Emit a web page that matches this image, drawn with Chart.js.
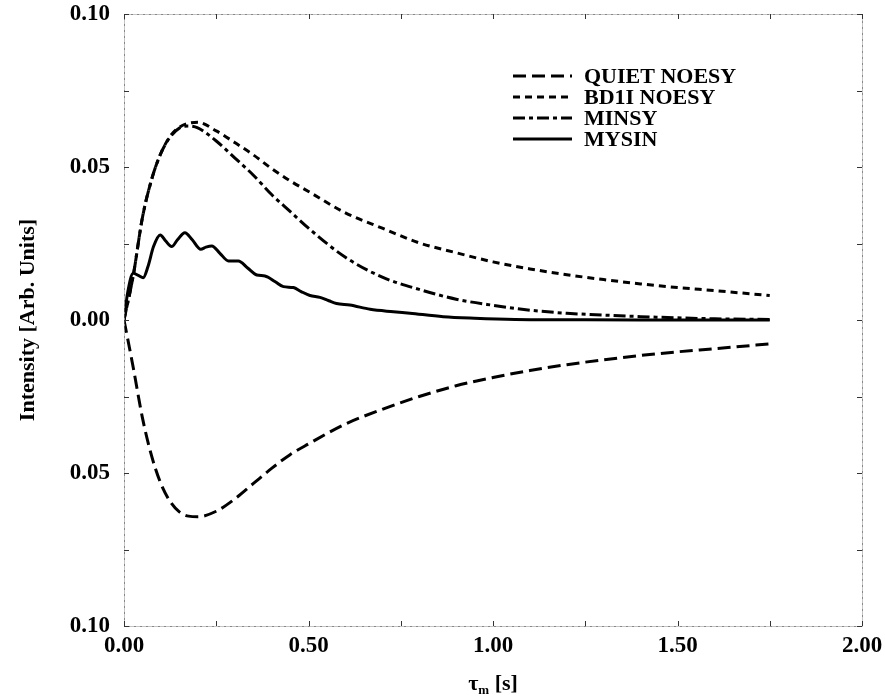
<!DOCTYPE html>
<html>
<head>
<meta charset="utf-8">
<title>Intensity vs mixing time</title>
<script src="https://cdn.jsdelivr.net/npm/chart.js@4.4.1/dist/chart.umd.min.js"></script>
<style>
  html, body { margin: 0; padding: 0; background: #fff; }
  #wrap { width: 885px; height: 696px; }
</style>
</head>
<body>
<div id="wrap"><canvas id="noesyChart"></canvas></div>
<script>
// mixing time grid (s) shared by the three smooth curves
const tauGrid = [0, 0.025, 0.05, 0.075, 0.1, 0.125, 0.15, 0.175, 0.2, 0.25, 0.3, 0.35, 0.4, 0.45, 0.5,
  0.6, 0.7, 0.8, 0.9, 1.0, 1.1, 1.2, 1.3, 1.4, 1.5, 1.6, 1.75];

const quietNoesy = [0, -0.0155, -0.032, -0.0445, -0.0535, -0.0593, -0.0627, -0.0641, -0.0643, -0.0625, -0.0585,
  -0.0535, -0.0485, -0.044, -0.0405, -0.034, -0.0292, -0.025, -0.0215, -0.0188, -0.0165, -0.0146, -0.013,
  -0.0116, -0.0104, -0.0094, -0.0078];

const bd1iNoesy = [0, 0.0145, 0.0335, 0.046, 0.0545, 0.06, 0.063, 0.0643, 0.0646, 0.0618, 0.058,
  0.054, 0.0495, 0.0455, 0.042, 0.035, 0.03, 0.0252, 0.022, 0.019, 0.0167, 0.0148, 0.0132,
  0.0118, 0.0106, 0.0096, 0.008];

const minsy = [0, 0.0145, 0.0335, 0.046, 0.0545, 0.0598, 0.0627, 0.0634, 0.0628, 0.0585, 0.053,
  0.0474, 0.041, 0.0355, 0.03, 0.0205, 0.014, 0.01, 0.0068, 0.0048, 0.0032, 0.0022, 0.0016,
  0.0011, 0.0007, 0.0004, 0.0002];

// MYSIN wiggles, so it gets its own finer grid
const mysinTau = [0, 0.01, 0.025, 0.04, 0.052, 0.065, 0.08, 0.098, 0.113, 0.129, 0.145, 0.165, 0.185,
  0.208, 0.222, 0.238, 0.26, 0.283, 0.31, 0.335, 0.36, 0.382, 0.41, 0.432, 0.459, 0.48, 0.504,
  0.531, 0.555, 0.576, 0.612, 0.667, 0.73, 0.775, 0.865, 0.95, 1.06, 1.2, 1.4, 1.75];
const mysin = [0, 0.009, 0.0153, 0.0145, 0.0138, 0.0175, 0.024, 0.0278, 0.0258, 0.024, 0.0262, 0.0285, 0.0262,
  0.0231, 0.0238, 0.0242, 0.0218, 0.0193, 0.0193, 0.017, 0.0147, 0.0144, 0.0125, 0.0109, 0.0106, 0.0093, 0.008,
  0.0074, 0.0063, 0.0054, 0.0049, 0.0035, 0.0027, 0.0022, 0.0011, 0.0006, 0.0002, 0.0001, 0, 0];

const xTicks = [0, 0.5, 1.0, 1.5, 2.0];
const yTicks = [-0.1, -0.05, 0, 0.05, 0.1];

const seriesNames = ['QUIET NOESY', 'BD1I NOESY', 'MINSY', 'MYSIN'];
const seriesDash = [[13, 6], [7, 5], [12, 4, 4, 4], []];

const serif = '"Liberation Serif", "Times New Roman", serif';

function pts(xs, ys) {
  return xs.map((x, i) => ({ x: x, y: ys[i] }));
}

function line(label, data, dash) {
  return {
    label: label,
    data: data,
    borderColor: '#000',
    borderWidth: 3,
    borderDash: dash,
    pointRadius: 0,
    fill: false,
    cubicInterpolationMode: 'monotone'
  };
}

// frame with inward ticks on every side
const framePlugin = {
  id: 'frame',
  afterDraw(chart) {
    const ctx = chart.ctx, a = chart.chartArea;
    const xs = chart.scales.x, ys = chart.scales.y;
    ctx.save();
    ctx.strokeStyle = '#888';
    ctx.lineWidth = 1;
    ctx.setLineDash([3, 1, 1, 1]);
    ctx.strokeRect(a.left + 0.5, a.top + 0.5, a.right - a.left, a.bottom - a.top);
    ctx.setLineDash([]);
    ctx.strokeStyle = '#333';
    ctx.beginPath();
    for (let v = 0; v <= 2.0001; v += 0.25) {
      const px = Math.round(xs.getPixelForValue(v)) + 0.5;
      ctx.moveTo(px, a.bottom); ctx.lineTo(px, a.bottom - 5);
      ctx.moveTo(px, a.top); ctx.lineTo(px, a.top + 5);
    }
    for (let v = -0.1; v <= 0.1001; v += 0.025) {
      const py = Math.round(ys.getPixelForValue(v)) + 0.5;
      ctx.moveTo(a.left, py); ctx.lineTo(a.left + 5, py);
      ctx.moveTo(a.right, py); ctx.lineTo(a.right - 5, py);
    }
    ctx.stroke();
    ctx.restore();
  }
};

// axis titles (x title needs a subscript) and the line-style legend
const textPlugin = {
  id: 'texts',
  afterDraw(chart) {
    const ctx = chart.ctx, a = chart.chartArea;
    ctx.save();
    ctx.fillStyle = '#000';

    // y title
    ctx.font = 'bold 22px ' + serif;
    ctx.textAlign = 'center';
    ctx.textBaseline = 'middle';
    ctx.translate(28, (a.top + a.bottom) / 2);
    ctx.rotate(-Math.PI / 2);
    ctx.fillText('Intensity [Arb. Units]', 0, 0);
    ctx.setTransform(1, 0, 0, 1, 0, 0);

    // x title: tau_m [s]
    const cx = (a.left + a.right) / 2, by = 690;
    ctx.textAlign = 'left';
    ctx.textBaseline = 'alphabetic';
    ctx.font = 'bold 22px ' + serif;
    const wTau = ctx.measureText('τ').width;
    const wRest = ctx.measureText(' [s]').width;
    ctx.font = 'bold 13px ' + serif;
    const wSub = ctx.measureText('m').width;
    let x0 = cx - (wTau + wSub + wRest) / 2;
    ctx.font = 'bold 22px ' + serif;
    ctx.fillText('τ', x0, by);
    ctx.font = 'bold 13px ' + serif;
    ctx.fillText('m', x0 + wTau, by + 4);
    ctx.font = 'bold 22px ' + serif;
    ctx.fillText(' [s]', x0 + wTau + wSub, by);

    // legend
    const rowY = [76, 97, 118, 139];
    ctx.textBaseline = 'middle';
    ctx.font = 'bold 22px ' + serif;
    ctx.strokeStyle = '#000';
    ctx.lineWidth = 3;
    seriesNames.forEach((name, i) => {
      ctx.setLineDash(seriesDash[i]);
      ctx.beginPath();
      ctx.moveTo(513, rowY[i]);
      ctx.lineTo(572, rowY[i]);
      ctx.stroke();
      ctx.fillText(name, 584, rowY[i] + 1);
    });
    ctx.restore();
  }
};

new Chart(document.getElementById('noesyChart'), {
  type: 'line',
  data: {
    datasets: [
      line(seriesNames[0], pts(tauGrid, quietNoesy), seriesDash[0]),
      line(seriesNames[1], pts(tauGrid, bd1iNoesy), seriesDash[1]),
      line(seriesNames[2], pts(tauGrid, minsy), seriesDash[2]),
      line(seriesNames[3], pts(mysinTau, mysin), seriesDash[3])
    ]
  },
  options: {
    responsive: true,
    maintainAspectRatio: false,
    animation: false,
    layout: { padding: { top: 14, right: 23, left: 0, bottom: 0 } },
    plugins: {
      legend: { display: false },
      tooltip: { enabled: false }
    },
    scales: {
      x: {
        type: 'linear',
        min: 0,
        max: 2,
        afterBuildTicks: s => { s.ticks = xTicks.map(v => ({ value: v })); },
        afterFit: s => { s.height = 70; s.paddingLeft = 0; s.paddingRight = 0; },
        grid: { display: false, drawTicks: false },
        border: { display: false },
        ticks: {
          padding: 6,
          color: '#000',
          maxRotation: 0,
          font: { family: serif, size: 23, weight: 'bold' },
          callback: v => Number(v).toFixed(2)
        }
      },
      y: {
        type: 'linear',
        min: -0.1,
        max: 0.1,
        afterBuildTicks: s => { s.ticks = yTicks.map(v => ({ value: v })); },
        afterFit: s => { s.width = 124; s.paddingTop = 0; s.paddingBottom = 0; },
        grid: { display: false, drawTicks: false },
        border: { display: false },
        ticks: {
          padding: 14,
          color: '#000',
          font: { family: serif, size: 23, weight: 'bold' },
          callback: v => Math.abs(Number(v)).toFixed(2)
        }
      }
    }
  },
  plugins: [framePlugin, textPlugin]
});
</script>
</body>
</html>
